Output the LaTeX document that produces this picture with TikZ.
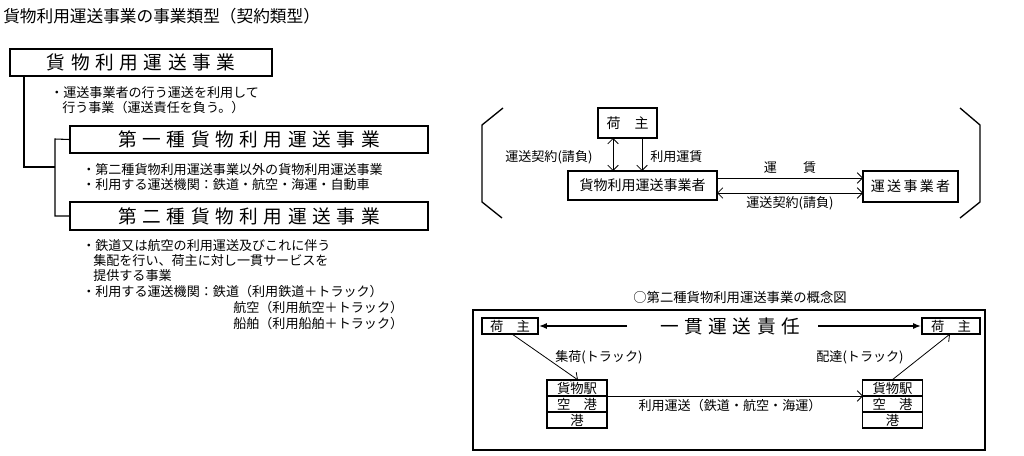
\documentclass[tikz,border=0pt]{standalone}
\usepackage{fontspec}
\setmainfont{Noto Sans CJK JP}
\usetikzlibrary{arrows.meta}
\newcommand{\kgap}{\hspace{0.3em}}
\begin{document}
\begin{tikzpicture}[x=0.75pt,y=-0.75pt,
  bx/.style={draw,line width=1.2pt,inner sep=0pt},
  tx/.style={inner sep=0pt,anchor=west,font=\fontsize{9.8}{11}\selectfont},
  hd/.style={font=\fontsize{14}{16}\selectfont},
  ln/.style={line width=0.8pt},
  ar/.style={-{Straight Barb[length=4pt]},line width=0.6pt},
  dar/.style={{Straight Barb[length=4pt]}-{Straight Barb[length=4pt]},line width=0.6pt}]
\useasboundingbox (0,0) rectangle (1024,456);
\node[tx,font=\fontsize{12.5}{14}\selectfont] (title) at (3,16) {貨物利用運送事業の事業類型（契約類型）};
% left tree
\node[bx,hd,minimum width=262*0.75pt,minimum height=27*0.75pt] (A) at (141,62.5) {貨\kgap 物\kgap 利\kgap 用\kgap 運\kgap 送\kgap 事\kgap 業};
\node[tx] (a1) at (50,93) {・運送事業者の行う運送を利用して};
\node[tx] (a2) at (62,108) {行う事業（運送責任を負う。）};
\node[bx,hd,minimum width=358*0.75pt,minimum height=27*0.75pt] (B) at (249,139.5) {第\kgap 一\kgap 種\kgap 貨\kgap 物\kgap 利\kgap 用\kgap 運\kgap 送\kgap 事\kgap 業};
\node[tx] (b1) at (82,170) {・第二種貨物利用運送事業以外の貨物利用運送事業};
\node[tx] (b2) at (82,185) {・利用する運送機関：鉄道・航空・海運・自動車};
\node[bx,hd,minimum width=358*0.75pt,minimum height=28*0.75pt] (C) at (249,216) {第\kgap 二\kgap 種\kgap 貨\kgap 物\kgap 利\kgap 用\kgap 運\kgap 送\kgap 事\kgap 業};
\node[tx] (c1) at (82,246) {・鉄道又は航空の利用運送及びこれに伴う};
\node[tx] (c2) at (93,261) {集配を行い、荷主に対し一貫サービスを};
\node[tx] (c3) at (93,276) {提供する事業};
\node[tx] (c4) at (82,292) {・利用する運送機関：鉄道（利用鉄道＋トラック）};
\node[tx] (c5) at (233,308) {航空（利用航空＋トラック）};
\node[tx] (c6) at (233,324) {船舶（利用船舶＋トラック）};
\coordinate (t1) at (24,76); \coordinate (t2) at (24,167); \coordinate (t3) at (55,167);
\coordinate (t4) at (55,139); \coordinate (t5) at (55,216);
\draw[ln] (t1) -- (t2) -- (t3);
\draw[ln] (B.west) -- (t4) -- (t5) -- (C.west);
% right top
\coordinate (l1) at (503,108); \coordinate (l2) at (482,125); \coordinate (l3) at (482,202); \coordinate (l4) at (502,218);
\coordinate (r1) at (960,108); \coordinate (r2) at (980,125); \coordinate (r3) at (980,202); \coordinate (r4) at (960,218);
\draw[line width=1pt] (l1) -- (l2) -- (l3) -- (l4);
\draw[line width=1pt] (r1) -- (r2) -- (r3) -- (r4);
\node[bx,minimum width=59*0.75pt,minimum height=30*0.75pt,font=\fontsize{10.5}{12}\selectfont] (N) at (627.5,123) {荷\quad 主};
\node[bx,minimum width=149*0.75pt,minimum height=29*0.75pt,font=\fontsize{10.5}{12}\selectfont] (F) at (642.5,185.5) {貨物利用運送事業者};
\node[bx,minimum width=95*0.75pt,minimum height=31*0.75pt,font=\fontsize{10.5}{12}\selectfont] (U) at (910.5,186.5) {運\,送\,事\,業\,者};
\draw[dar] (613,138) -- (613,171);
\draw[ar] (642,138) -- (642,171);
\node[tx] (k1) at (505,157) {運送契約(請負)};
\node[tx] (k2) at (650,157) {利用運賃};
\draw[ar] (717,178) -- (863,178);
\draw[dar] (717,193) -- (863,193);
\node[tx,anchor=center] (k3) at (790,168) {運\qquad 賃};
\node[tx,anchor=center] (k4) at (790,203) {運送契約(請負)};
% bottom
\node[tx,anchor=center,font=\fontsize{10}{12}\selectfont] (cap) at (740,297) {○第二種貨物利用運送事業の概念図};
\draw[line width=1.2pt] (473,310) rectangle (985,450);
\node[bx,minimum width=56*0.75pt,minimum height=16*0.75pt,font=\fontsize{10}{11}\selectfont] (P1) at (510,326) {荷\quad 主};
\node[bx,minimum width=58*0.75pt,minimum height=16*0.75pt,font=\fontsize{10}{11}\selectfont] (P2) at (951,326) {荷\quad 主};
\node[inner sep=0pt,font=\fontsize{14}{16}\selectfont] (R) at (730,326) {一\kgap 貫\kgap 運\kgap 送\kgap 責\kgap 任};
\draw[-{Latex[length=6pt]},line width=1.2pt] (627,326) -- (P1.east);
\draw[-{Latex[length=6pt]},line width=1.2pt] (818,326) -- (P2.west);
\foreach \n/\x in {L/577,Rr/892.5}{
  \node[bx,minimum width=60*0.75pt,minimum height=16*0.75pt,font=\fontsize{10}{11}\selectfont] (\n1) at (\x,388) {貨物駅};
  \node[bx,minimum width=60*0.75pt,minimum height=16*0.75pt,font=\fontsize{10}{11}\selectfont] (\n2) at (\x,404) {空\quad 港};
  \node[bx,minimum width=60*0.75pt,minimum height=16*0.75pt,font=\fontsize{10}{11}\selectfont] (\n3) at (\x,420) {港};
}
\draw[ar] (512,334) -- (578,380);
\draw[ar] (892,380) -- (950,334);
\node[tx] (s1) at (555,357) {集荷(トラック)};
\node[tx,anchor=center] (s2) at (860,357) {配達(トラック)};
\draw[ar] (607,396) -- (863,396);
\node[tx,anchor=center] (s3) at (730,406) {利用運送（鉄道・航空・海運）};
\end{tikzpicture}
\end{document}
